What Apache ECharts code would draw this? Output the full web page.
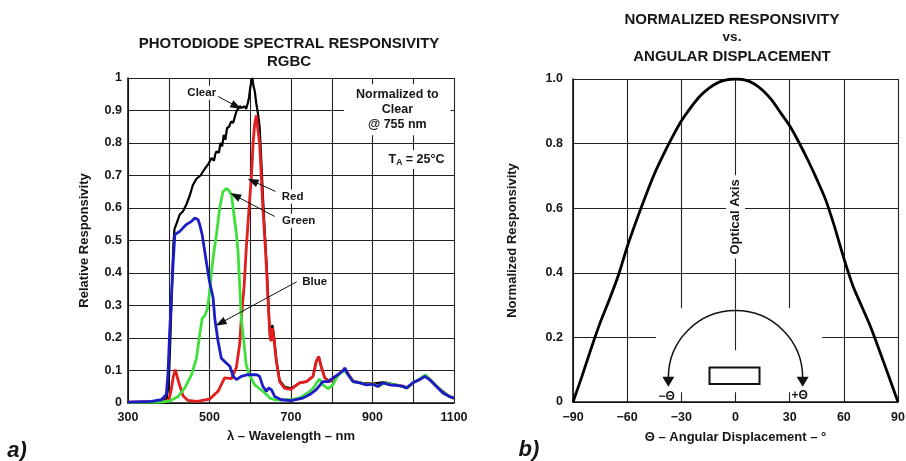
<!DOCTYPE html>
<html><head><meta charset="utf-8">
<script src="https://cdn.jsdelivr.net/npm/echarts@6/dist/echarts.min.js"></script>
<style>html,body{margin:0;padding:0;background:#fff}#c{width:906px;height:461px}</style>
</head><body><div id="c"></div>
<script>
// ---------------- data ----------------
const waveTickLabels = [300, 500, 700, 900, 1100];
const relTickLabels = ['0','0.1','0.2','0.3','0.4','0.5','0.6','0.7','0.8','0.9','1'];
const angleTickLabels = ['\u221290','\u221260','\u221230','0','30','60','90'];
const normTickLabels = ['0','0.2','0.4','0.6','0.8','1.0'];

const clearNm = [300,360,385,395,400,404,408,411,414,420,427,435,443,452,459,468,478,488,497,505,511,514,517,523,527,531,535,539,543,548,553,558,562,566,570,574,580,586,590,594,597,600,603,605,608,611,615,619,623,627,631,635,640,644,648,651,654,657,664,672,684,700,721,738,754,762,768,775,783,795,810,832,852,870,900,930,960,985,1000,1030,1057,1089,1100];
const clearVal = [0.002,0.003,0.006,0.015,0.06,0.2,0.36,0.48,0.535,0.555,0.58,0.59,0.61,0.64,0.67,0.69,0.70,0.72,0.735,0.754,0.745,0.765,0.774,0.77,0.80,0.79,0.825,0.81,0.846,0.85,0.866,0.862,0.88,0.897,0.905,0.913,0.908,0.913,0.905,0.923,0.94,0.97,0.99,1.0,0.975,0.96,0.92,0.89,0.85,0.75,0.64,0.54,0.43,0.32,0.22,0.2,0.24,0.22,0.135,0.07,0.05,0.045,0.062,0.066,0.082,0.128,0.143,0.108,0.077,0.066,0.08,0.105,0.068,0.062,0.06,0.064,0.055,0.047,0.062,0.085,0.052,0.02,0.015];

const redNm = [300,380,400,406,411,416,423,435,447,470,500,521,537,554,566,574,578,585,590,597,603,607,611,615,619,623,627,631,635,640,644,648,651,654,657,664,672,684,700,721,738,754,762,768,775,783,795,810,832,852,870,885,900,915,930,945,960,975,985,1000,1015,1030,1040,1057,1073,1089,1100];
const redVal = [0.003,0.004,0.008,0.04,0.08,0.103,0.07,0.022,0.008,0.005,0.012,0.036,0.077,0.075,0.11,0.18,0.26,0.36,0.47,0.6,0.7,0.8,0.86,0.885,0.84,0.80,0.70,0.60,0.52,0.41,0.31,0.21,0.19,0.23,0.21,0.128,0.066,0.046,0.042,0.062,0.066,0.082,0.128,0.143,0.108,0.077,0.066,0.08,0.105,0.068,0.062,0.058,0.06,0.052,0.064,0.056,0.055,0.052,0.047,0.062,0.072,0.085,0.074,0.052,0.032,0.02,0.015];

const greenNm = [300,380,402,423,439,456,468,476,482,488,495,500,506,511,517,525,533,541,547,554,560,566,570,574,578,585,590,598,611,627,640,648,660,680,700,720,740,755,763,770,778,791,803,815,830,840,852,870,885,900,915,930,945,960,975,985,1000,1015,1030,1040,1057,1073,1089,1100];
const greenVal = [0.002,0.003,0.006,0.02,0.046,0.087,0.138,0.21,0.26,0.268,0.29,0.34,0.415,0.466,0.518,0.60,0.65,0.66,0.655,0.64,0.58,0.52,0.466,0.364,0.26,0.18,0.118,0.087,0.056,0.04,0.026,0.015,0.01,0.01,0.01,0.015,0.03,0.046,0.062,0.074,0.056,0.044,0.056,0.085,0.1,0.088,0.066,0.063,0.057,0.059,0.051,0.063,0.057,0.055,0.05,0.046,0.063,0.073,0.086,0.073,0.052,0.032,0.02,0.015];

const blueNm = [300,357,382,394,398,402,406,410,415,427,443,456,464,472,476,482,492,500,509,513,521,529,541,550,558,566,578,594,615,623,631,640,645,652,660,676,700,729,746,762,778,791,803,815,828,832,840,852,869,885,901,913,926,942,959,975,983,999,1016,1028,1032,1040,1057,1073,1089,1100];
const blueVal = [0.003,0.005,0.01,0.026,0.087,0.21,0.31,0.415,0.518,0.528,0.549,0.559,0.569,0.564,0.549,0.518,0.436,0.374,0.323,0.26,0.19,0.138,0.123,0.113,0.082,0.072,0.082,0.087,0.087,0.082,0.051,0.036,0.046,0.041,0.02,0.01,0.007,0.015,0.026,0.041,0.066,0.066,0.077,0.087,0.1,0.108,0.087,0.066,0.062,0.056,0.058,0.051,0.062,0.056,0.054,0.051,0.046,0.062,0.072,0.082,0.087,0.072,0.051,0.031,0.02,0.015];

const angleDeg = [-90,-85,-80,-75,-70,-65,-60,-55,-50,-45,-40,-35,-30,-25,-20,-15,-10,-5,0,5,10,15,20,25,30,35,40,45,50,55,60,65,70,75,80,85,90];
const angleResp = [0,0.08,0.165,0.245,0.315,0.39,0.48,0.56,0.635,0.705,0.765,0.82,0.87,0.91,0.945,0.97,0.988,0.997,1.0,0.997,0.986,0.965,0.935,0.895,0.855,0.805,0.75,0.69,0.625,0.54,0.445,0.36,0.295,0.23,0.155,0.078,0];

// ---------------- chart ----------------
const FONT = '"Liberation Sans", Arial, Helvetica, sans-serif';
const INK = '#161616';
const zip = (xs, ys) => xs.map((x, i) => [x, ys[i]]);

const chart = echarts.init(document.getElementById('c'), null, {renderer: 'canvas'});

const axisCommon = {
  axisLine: {show: true, onZero: false, lineStyle: {color: '#111', width: 1.6}},
  axisTick: {show: false},
  splitLine: {show: true, lineStyle: {color: '#222', width: 1.1}},
  nameLocation: 'middle',
  nameTextStyle: {color: INK, fontWeight: 'bold', fontSize: 13, fontFamily: FONT}
};
const lab = {color: INK, fontWeight: 'bold', fontSize: 12.5, fontFamily: FONT};

const tagLabel = {
  show: true, position: 'inside', color: INK, fontWeight: 'bold',
  fontSize: 11.5, fontFamily: FONT, backgroundColor: '#fff', padding: [1, 2]
};
function tag(coord, text, extra) {
  return {coord: coord, value: 0, label: Object.assign({}, tagLabel, {formatter: text}, extra || {})};
}

const option = {
  animation: false,
  backgroundColor: '#fff',
  grid: [
    {left: 128, top: 78, width: 326, height: 325, containLabel: false, outerBoundsMode: 'none'},
    {left: 573, top: 79, width: 325, height: 323, containLabel: false, outerBoundsMode: 'none'}
  ],
  xAxis: [
    Object.assign({}, axisCommon, {
      gridIndex: 0, type: 'value', min: 300, max: 1100, interval: 100,
      name: '\u03bb \u2013 Wavelength \u2013 nm', nameGap: 27,
      axisLabel: Object.assign({}, lab, {margin: 8,
        formatter: v => waveTickLabels.includes(Math.round(v)) ? String(Math.round(v)) : ''})
    }),
    Object.assign({}, axisCommon, {
      gridIndex: 1, type: 'value', min: -90, max: 90, interval: 30,
      name: '\u0398 \u2013 Angular Displacement \u2013 \u00b0', nameGap: 29,
      axisLabel: Object.assign({}, lab, {margin: 9,
        formatter: v => angleTickLabels[Math.round((v + 90) / 30)]})
    })
  ],
  yAxis: [
    Object.assign({}, axisCommon, {
      gridIndex: 0, type: 'value', min: 0, max: 1, interval: 0.1,
      name: 'Relative Responsivity', nameGap: 37,
      axisLabel: Object.assign({}, lab, {margin: 6,
        formatter: v => relTickLabels[Math.round(v * 10)]})
    }),
    Object.assign({}, axisCommon, {
      gridIndex: 1, type: 'value', min: 0, max: 1, interval: 0.2,
      name: 'Normalized Responsivity', nameGap: 54,
      axisLabel: Object.assign({}, lab, {margin: 10,
        formatter: v => normTickLabels[Math.round(v * 5)]})
    })
  ],
  series: [
    {type: 'line', name: 'Clear', xAxisIndex: 0, yAxisIndex: 0, data: zip(clearNm, clearVal),
     showSymbol: false, z: 2, lineStyle: {color: '#000', width: 2.2}, itemStyle: {color: '#000'}},
    {type: 'line', name: 'Red', xAxisIndex: 0, yAxisIndex: 0, data: zip(redNm, redVal),
     showSymbol: false, z: 3, lineStyle: {color: '#e21d1d', width: 2.8}, itemStyle: {color: '#e21d1d'}},
    {type: 'line', name: 'Green', xAxisIndex: 0, yAxisIndex: 0, data: zip(greenNm, greenVal),
     showSymbol: false, z: 4, lineStyle: {color: '#3fe03c', width: 2.8}, itemStyle: {color: '#3fe03c'}},
    {type: 'line', name: 'Blue', xAxisIndex: 0, yAxisIndex: 0, data: zip(blueNm, blueVal),
     showSymbol: false, z: 5, lineStyle: {color: '#1c1cc6', width: 2.8}, itemStyle: {color: '#1c1cc6'},
     markLine: {
       silent: true, symbol: ['none', 'triangle'], symbolSize: [8, 11],
       lineStyle: {color: '#111', width: 1, type: 'solid'}, label: {show: false},
       emphasis: {disabled: true},
       data: [
         [{coord: [517, 0.946]}, {coord: [566, 0.913]}],
         [{coord: [662, 0.651]}, {coord: [606, 0.683]}],
         [{coord: [660, 0.574]}, {coord: [563, 0.638]}],
         [{coord: [714, 0.373]}, {coord: [527, 0.246]}]
       ]
     },
     markPoint: {
       silent: true, symbol: 'rect', symbolSize: 1, itemStyle: {color: 'rgba(0,0,0,0)'},
       data: [
         tag([481, 0.955], 'Clear'),
         tag([704, 0.635], 'Red'),
         tag([719, 0.561], 'Green'),
         tag([758, 0.373], 'Blue'),
         tag([961, 0.902], 'Normalized to\nClear\n@ 755 nm', {fontSize: 12.5, lineHeight: 15, padding: [3, 12, 3, 12]}),
         tag([1008, 0.749], '{t|T}{s|A}{t| = 25\u00b0C}', {padding: [2, 4],
           rich: {t: {fontSize: 12.5, fontWeight: 'bold', fontFamily: FONT, color: INK},
                  s: {fontSize: 8.5, fontWeight: 'bold', fontFamily: FONT, color: INK, padding: [6, 0, 0, 0]}}})
       ]
     }},
    {type: 'line', name: 'Angular', xAxisIndex: 1, yAxisIndex: 1, data: zip(angleDeg, angleResp),
     showSymbol: false, smooth: 0.3, z: 5, lineStyle: {color: '#000', width: 2.8}, itemStyle: {color: '#000'}}
  ]
};
chart.setOption(option);

// ---- texts and optical-axis diagram (positioned through the axes) ----
const P = (x, y) => chart.convertToPixel({gridIndex: 1}, [x, y]);
const tf = (sz, style) => (style || 'bold') + ' ' + sz + 'px ' + FONT;
const graphics = [];
function txt(x, y, text, font, extra) {
  graphics.push(Object.assign({type: 'text', x: x, y: y, z: 10,
    style: {text: text, font: font, fill: INK, align: 'center', verticalAlign: 'middle'}}, extra || {}));
}
// titles
txt(289, 43.5, 'PHOTODIODE SPECTRAL RESPONSIVITY', tf(15));
txt(289, 61.5, 'RGBC', tf(15));
txt(732, 19.5, 'NORMALIZED RESPONSIVITY', tf(15));
txt(732, 37, 'vs.', tf(13.5));
txt(732, 57, 'ANGULAR DISPLACEMENT', tf(15));
txt(17, 451, 'a)', tf(22, 'italic bold'));
txt(529, 450, 'b)', tf(22, 'italic bold'));

// mask behind the diagram (interrupts grid lines)
const m1 = P(-44, 0.29), m2 = P(48, 0.03);
graphics.push({type: 'rect', z: 1, shape: {x: m1[0], y: m1[1], width: m2[0] - m1[0], height: m2[1] - m1[1]},
  style: {fill: '#fff'}});
// optical axis segment
const a1 = P(0, 0.29), a2 = P(0, 0.16);
graphics.push({type: 'line', z: 1, shape: {x1: a1[0], y1: a1[1], x2: a2[0], y2: a2[1]},
  style: {stroke: '#222', lineWidth: 1.1}});
// "Optical Axis" label
const oa = P(0, 0.573);
graphics.push({type: 'text', x: oa[0], y: oa[1], rotation: Math.PI / 2, z: 10,
  style: {text: 'Optical Axis', font: tf(13), fill: INK, align: 'center', verticalAlign: 'middle',
          backgroundColor: '#fff', padding: [3, 4]}});
// arc with arrows
const c = P(0, 0.075);
const r = P(37.2, 0.075)[0] - c[0];
graphics.push({type: 'arc', z: 10, shape: {cx: c[0], cy: c[1], r: r, startAngle: Math.PI, endAngle: 2 * Math.PI, clockwise: true},
  style: {stroke: '#111', lineWidth: 1.5, fill: null}});
[-1, 1].forEach(s => {
  const x = c[0] + s * r;
  graphics.push({type: 'polygon', z: 10, shape: {points: [[x - 6, c[1] - 1], [x + 6, c[1] - 1], [x, c[1] + 9]]},
    style: {fill: '#111'}});
});
// detector box
const b1 = P(-14.4, 0.107), b2 = P(13.3, 0.056);
graphics.push({type: 'rect', z: 10, shape: {x: b1[0], y: b1[1], width: b2[0] - b1[0], height: b2[1] - b1[1]},
  style: {fill: '#fff', stroke: '#111', lineWidth: 2}});
// theta labels
const tm = P(-38.1, 0.017), tp = P(35.5, 0.019);
txt(tm[0], tm[1], '\u2212\u0398', tf(12));
txt(tp[0], tp[1], '+\u0398', tf(12));

chart.setOption({graphic: graphics});
</script>
</body></html>
